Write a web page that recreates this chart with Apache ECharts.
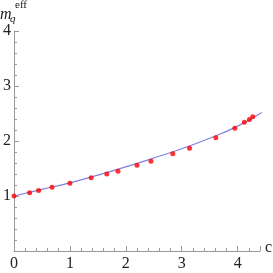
<!DOCTYPE html>
<html><head><meta charset="utf-8">
<script src="https://cdn.jsdelivr.net/npm/echarts@6/dist/echarts.min.js"></script>
<style>html,body{margin:0;padding:0;background:#fff}#c{width:273px;height:273px}</style>
</head><body><div id="c"></div>
<script>
var pointX = [0, 0.28, 0.44, 0.68, 1.0, 1.38, 1.66, 1.86, 2.2, 2.45, 2.84, 3.14, 3.61, 3.95, 4.12, 4.21, 4.27];
var pointY = [1.0, 1.06, 1.10, 1.16, 1.23, 1.33, 1.40, 1.45, 1.56, 1.63, 1.77, 1.87, 2.06, 2.23, 2.34, 2.39, 2.44];
var lineX = [0, 0.5, 1, 1.5, 2, 2.5, 3, 3.5, 4, 4.43];
var lineY = [1.0, 1.12, 1.24, 1.38, 1.53, 1.69, 1.86, 2.05, 2.27, 2.52];
var xTicks = [0, 1, 2, 3, 4];
var yTicks = [1, 2, 3, 4];

var chart = echarts.init(document.getElementById('c'));
var axisCol = '#999';
var font = 'Times New Roman, Liberation Serif, serif';
chart.setOption({
  animation: false,
  grid: {left: 11, right: 13, top: 31, bottom: 22},
  xAxis: {
    type: 'value', min: 0, max: 4.4, interval: 1,
    axisLine: {show: true, onZero: false, lineStyle: {color: axisCol, width: 1}},
    axisTick: {show: true, inside: true, length: 5, lineStyle: {color: axisCol}},
    minorTick: {show: true, splitNumber: 5, length: 3, lineStyle: {color: axisCol}},
    splitLine: {show: false},
    axisLabel: {color: '#222', fontFamily: font, fontSize: 16, margin: 5,
      formatter: function (v) { return xTicks.indexOf(v) >= 0 ? String(v) : ''; }}
  },
  yAxis: {
    type: 'value', min: 0, max: 4, interval: 1,
    axisLine: {show: true, onZero: false, lineStyle: {color: axisCol, width: 1}},
    axisTick: {show: true, inside: true, length: 5, lineStyle: {color: axisCol}},
    minorTick: {show: true, splitNumber: 5, length: 3, lineStyle: {color: axisCol}},
    splitLine: {show: false},
    axisLabel: {color: '#222', fontFamily: font, fontSize: 16, margin: 3,
      formatter: function (v) { return yTicks.indexOf(v) >= 0 ? String(v) : ''; }}
  },
  graphic: [
    {type: 'text', left: 0, top: 7, style: {text: 'm', font: 'italic 16px ' + font, fill: '#222'}},
    {type: 'text', left: 10, top: 14, style: {text: 'q', font: 'italic 11px ' + font, fill: '#222'}},
    {type: 'text', left: 15, top: 0, style: {text: 'eff', font: '11px ' + font, fill: '#222'}},
    {type: 'text', left: 265, top: 240, style: {text: 'c', font: '16px ' + font, fill: '#222'}}
  ],
  series: [
    {type: 'line', data: lineX.map(function (x, i) { return [x, lineY[i]]; }),
     smooth: true, showSymbol: false, lineStyle: {color: '#8080dd', width: 1.2}, z: 2},
    {type: 'scatter', data: pointX.map(function (x, i) { return [x, pointY[i]]; }),
     symbol: 'circle', symbolSize: 5, itemStyle: {color: '#ff0000'}, z: 3}
  ]
});
</script></body></html>
